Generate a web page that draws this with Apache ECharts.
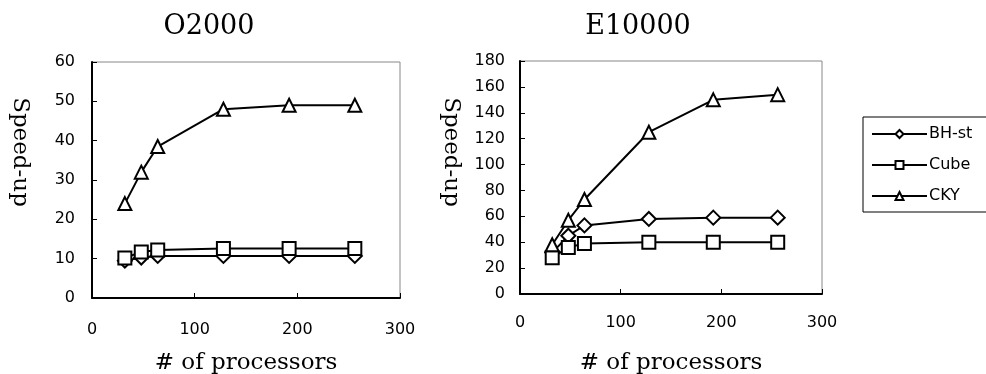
<!DOCTYPE html>
<html>
<head>
<meta charset="utf-8">
<script src="https://cdn.jsdelivr.net/npm/echarts@6/dist/echarts.min.js"></script>
<style>
  html, body { margin: 0; padding: 0; background: #fff; }
  #main { width: 986px; height: 374px; }
</style>
</head>
<body>
<div id="main"></div>
<script>
// processors on the x axis
var procs = [32, 48, 64, 128, 192, 256]
// O2000
var o2000BH = [9.5, 10.3, 10.7, 10.7, 10.7, 10.7]
var o2000Cube = [10.2, 11.7, 12.2, 12.6, 12.6, 12.6]
var o2000CKY = [24, 32, 38.5, 48, 49, 49]
// E10000
var e10000BH = [32, 45, 53, 58, 59, 59]
var e10000Cube = [28, 36, 39, 40, 40, 40]
var e10000CKY = [38, 57, 73, 125, 150, 154]

var titles = ['O2000', 'E10000']

function pairs (ys) {
  return procs.map(function (x, i) { return [x, ys[i]] })
}

var serif = '"DejaVu Serif", "Liberation Serif", serif'
var sans = '"DejaVu Sans", "Liberation Sans", sans-serif'

function mkSeries (name, symbol, ys, idx) {
  return {
    name: name,
    type: 'line',
    xAxisIndex: idx,
    yAxisIndex: idx,
    data: pairs(ys),
    symbol: symbol,
    symbolSize: symbol === 'diamond' ? 14 : 13,
    showSymbol: true,
    color: '#000',
    lineStyle: { color: '#000', width: 2 },
    itemStyle: { color: '#fff', borderColor: '#000', borderWidth: 2 },
    animation: false
  }
}

function xAxis (idx, labelMargin, nameGap) {
  return {
    type: 'value',
    gridIndex: idx,
    min: 0,
    max: 300,
    interval: 100,
    name: '# of processors',
    nameLocation: 'middle',
    nameGap: nameGap,
    nameTextStyle: { fontFamily: serif, fontSize: 23, color: '#000' },
    axisLine: { show: true, lineStyle: { color: '#000', width: 2 } },
    axisTick: { show: true, inside: true, length: 5, lineStyle: { color: '#000' } },
    axisLabel: { fontFamily: sans, fontSize: 16, color: '#000', margin: labelMargin },
    splitLine: { show: false }
  }
}

function yAxis (idx, max, interval, labelMargin) {
  return {
    type: 'value',
    gridIndex: idx,
    min: 0,
    max: max,
    interval: interval,
    axisLine: { show: true, lineStyle: { color: '#000', width: 2 } },
    axisTick: { show: true, inside: true, length: 5, lineStyle: { color: '#000' } },
    axisLabel: { fontFamily: sans, fontSize: 16, color: '#000', margin: labelMargin },
    splitLine: { show: false }
  }
}

function yName (x) {
  return {
    type: 'text',
    x: x,
    y: 152,
    rotation: -Math.PI / 2,
    style: {
      text: 'Speed-up',
      fontFamily: serif,
      fontSize: 23,
      fill: '#000',
      textAlign: 'center',
      textVerticalAlign: 'middle'
    }
  }
}

var chart = echarts.init(document.getElementById('main'))
chart.setOption({
  backgroundColor: '#fff',
  animation: false,
  title: [
    { text: titles[0], left: 204, top: 8, textAlign: 'center',
      textStyle: { fontFamily: serif, fontSize: 27, fontWeight: 'normal', color: '#000' } },
    { text: titles[1], left: 633, top: 8, textAlign: 'center',
      textStyle: { fontFamily: serif, fontSize: 27, fontWeight: 'normal', color: '#000' } }
  ],
  graphic: [yName(20), yName(451)],
  legend: {
    orient: 'vertical',
    left: 863,
    top: 117,
    itemWidth: 55,
    itemHeight: 10,
    itemGap: 15,
    padding: [9, 40, 8, 8],
    borderColor: '#000',
    borderWidth: 1,
    textStyle: { fontFamily: sans, fontSize: 16, color: '#000', padding: [0, 0, 0, -3] },
    data: ['BH-st', 'Cube', 'CKY']
  },
  grid: [
    { left: 92, top: 62, width: 308, height: 236, outerBoundsMode: 'none', containLabel: false,
      show: true, borderColor: '#888', borderWidth: 1 },
    { left: 520, top: 61, width: 302, height: 233, outerBoundsMode: 'none', containLabel: false,
      show: true, borderColor: '#888', borderWidth: 1 }
  ],
  xAxis: [xAxis(0, 24, 54), xAxis(1, 21, 58)],
  yAxis: [yAxis(0, 60, 10, 17), yAxis(1, 180, 20, 15)],
  series: [
    mkSeries('BH-st', 'diamond', o2000BH, 0),
    mkSeries('Cube', 'rect', o2000Cube, 0),
    mkSeries('CKY', 'triangle', o2000CKY, 0),
    mkSeries('BH-st', 'diamond', e10000BH, 1),
    mkSeries('Cube', 'rect', e10000Cube, 1),
    mkSeries('CKY', 'triangle', e10000CKY, 1)
  ]
})
</script>
</body>
</html>
